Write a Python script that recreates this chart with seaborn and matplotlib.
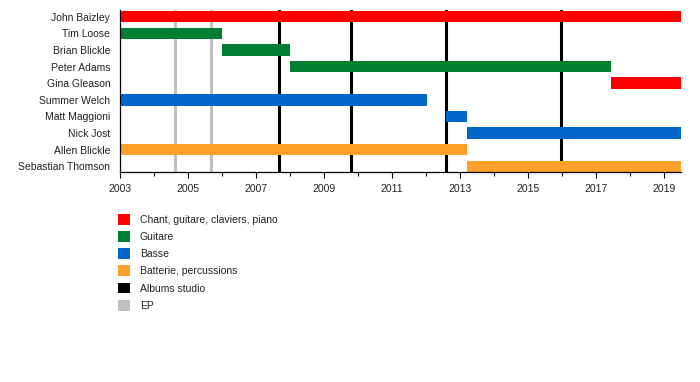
import matplotlib
matplotlib.use('Agg')
import matplotlib.pyplot as plt
from matplotlib.patches import Patch
from matplotlib.ticker import MultipleLocator
import seaborn as sns

# membres, du haut vers le bas
members = ['John Baizley', 'Tim Loose', 'Brian Blickle', 'Peter Adams', 'Gina Gleason',
           'Summer Welch', 'Matt Maggioni', 'Nick Jost', 'Allen Blickle', 'Sebastian Thomson']
starts = [2003.0, 2003.0, 2006.0, 2008.0, 2017.45, 2003.0, 2012.6, 2013.2, 2003.0, 2013.2]
ends = [2019.5, 2006.0, 2008.0, 2017.45, 2019.5, 2012.03, 2013.2, 2019.5, 2013.2, 2019.5]
roles = ['Chant, guitare, claviers, piano', 'Guitare', 'Guitare', 'Guitare',
         'Chant, guitare, claviers, piano', 'Basse', 'Basse', 'Basse',
         'Batterie, percussions', 'Batterie, percussions']

# sorties
albums = [2007.68, 2009.79, 2012.6, 2015.97]
eps = [2004.62, 2005.68]

role_colors = {
    'Chant, guitare, claviers, piano': '#ff0000',
    'Guitare': '#007f33',
    'Basse': '#0066cc',
    'Batterie, percussions': '#ffa02a',
}
album_color = '#000000'
ep_color = '#c0c0c0'

sns.set_style('ticks')
plt.rcParams['font.family'] = ['Liberation Sans', 'DejaVu Sans']
fs = 7.5

fig = plt.figure(figsize=(7, 3.82), dpi=100)
ax = fig.add_axes([0.1714, 0.550, 0.973 - 0.1714, 0.974 - 0.550])

# lignes verticales derrière les barres
for x in eps:
    ax.axvline(x, color=ep_color, lw=2.2, zorder=1)
for x in albums:
    ax.axvline(x, color=album_color, lw=2.2, zorder=1)

for i, m in enumerate(members):
    ax.barh(i, ends[i] - starts[i], left=starts[i], height=0.69,
            color=role_colors[roles[i]], edgecolor='none', zorder=2)

ax.set_ylim(9.34, -0.41)
ax.set_xlim(2003, 2019.5)
ax.set_yticks(range(len(members)))
ax.set_yticklabels(members, fontsize=fs, color='#222222')
ax.tick_params(axis='y', length=0, pad=7)
ax.xaxis.set_minor_locator(MultipleLocator(1))
ax.set_xticks(range(2003, 2020, 2))
ax.set_xticklabels([str(y) for y in range(2003, 2020, 2)], fontsize=fs, color='#222222')
ax.tick_params(axis='x', which='major', length=4, width=0.8, color='black', pad=5)
ax.tick_params(axis='x', which='minor', length=3, width=0.8, color='black')
for s in ['left', 'bottom']:
    ax.spines[s].set_color('black')
    ax.spines[s].set_linewidth(0.9)
sns.despine(ax=ax)
ax.grid(False)

handles = [Patch(facecolor=c, edgecolor='none', label=k) for k, c in role_colors.items()]
handles.append(Patch(facecolor=album_color, edgecolor='none', label='Albums studio'))
handles.append(Patch(facecolor=ep_color, edgecolor='none', label='EP'))
leg = fig.legend(handles=handles, loc='upper left', bbox_to_anchor=(0.1686, 0.440),
                 frameon=False, fontsize=fs, handlelength=1.19, handleheight=1.22,
                 handletextpad=0.92, labelspacing=0.6, borderaxespad=0, borderpad=0)
for t in leg.get_texts():
    t.set_color('#222222')

fig.savefig('out.png', dpi=100)
